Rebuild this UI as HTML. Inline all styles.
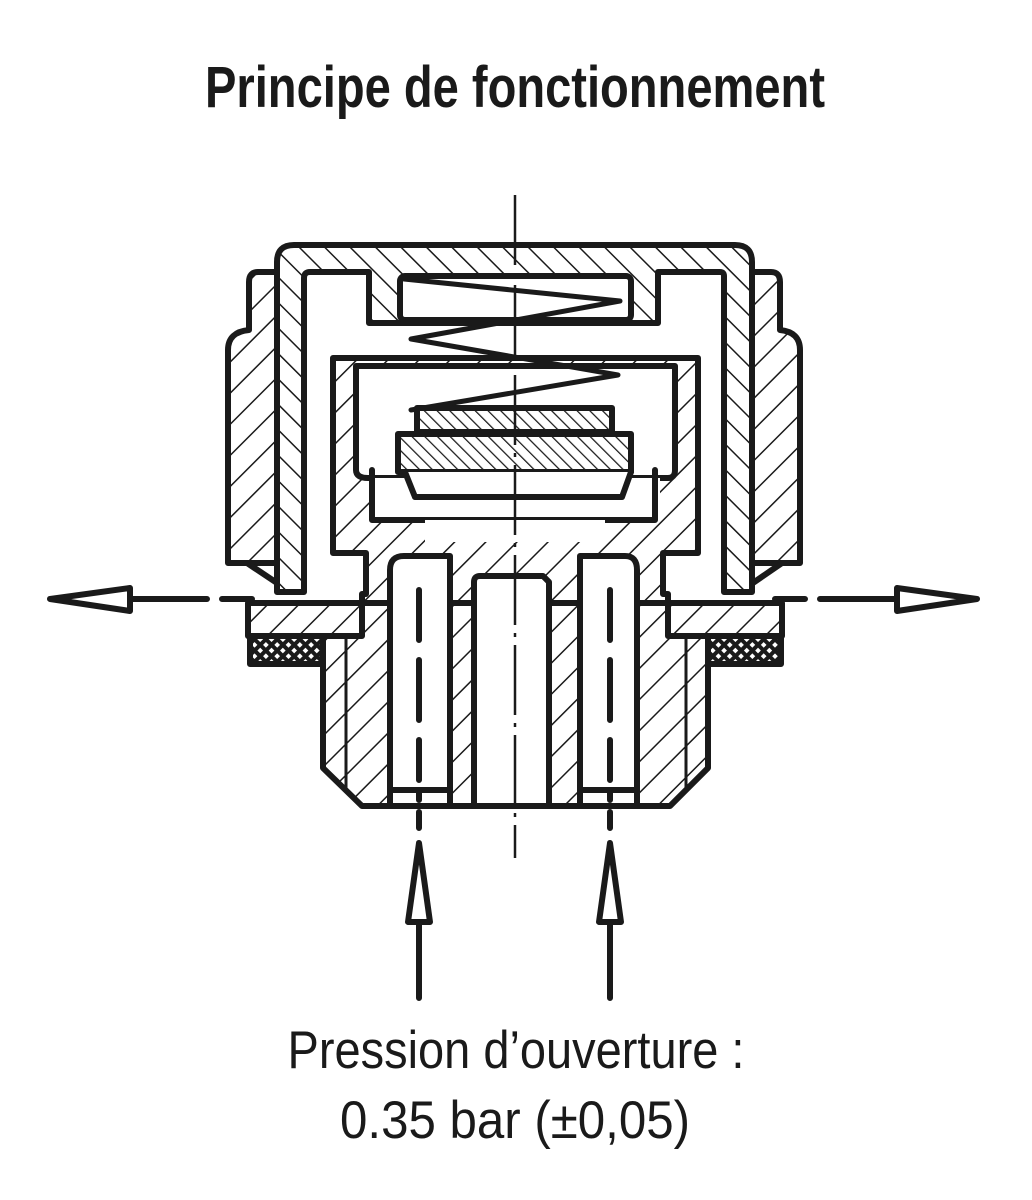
<!DOCTYPE html>
<html><head><meta charset="utf-8"><style>
html,body{margin:0;padding:0;background:#fff;}
svg{display:block;}
</style></head><body>
<svg width="1032" height="1200" viewBox="0 0 1032 1200" xmlns="http://www.w3.org/2000/svg">
<defs>
<pattern id="h" patternUnits="userSpaceOnUse" width="22" height="22" patternTransform="rotate(45)">
<rect width="22" height="22" fill="#fff"/><line x1="0" y1="0" x2="0" y2="22" stroke="#1a1a1a" stroke-width="3"/></pattern>
<pattern id="h2" patternUnits="userSpaceOnUse" width="18" height="18" patternTransform="rotate(-45)">
<rect width="18" height="18" fill="#fff"/><line x1="0" y1="0" x2="0" y2="18" stroke="#1a1a1a" stroke-width="3"/></pattern>
<pattern id="hf" patternUnits="userSpaceOnUse" width="9" height="9" patternTransform="rotate(-45)">
<rect width="9" height="9" fill="#fff"/><line x1="0" y1="0" x2="0" y2="9" stroke="#1a1a1a" stroke-width="2.5"/></pattern>
<pattern id="x" patternUnits="userSpaceOnUse" width="8" height="8" patternTransform="rotate(45)">
<rect width="8" height="8" fill="#1a1a1a"/><rect x="2" y="2" width="4" height="4" fill="#fff"/></pattern>
</defs>
<g font-family="'Liberation Sans', sans-serif" fill="#1a1a1a">
<text x="515" y="107" text-anchor="middle" font-size="58" font-weight="bold" textLength="620" lengthAdjust="spacingAndGlyphs">Principe de fonctionnement</text>
<text x="516" y="1068" text-anchor="middle" font-size="53" textLength="457" lengthAdjust="spacingAndGlyphs">Pression d’ouverture :</text>
<text x="515" y="1138" text-anchor="middle" font-size="53" textLength="350" lengthAdjust="spacingAndGlyphs">0.35 bar (±0,05)</text>
</g>
<g stroke="#1a1a1a" stroke-width="6" stroke-linejoin="round" stroke-linecap="round">
<!-- grip rings -->
<path d="M277 272 H258 Q249 272 249 282 V330 Q228 332 228 350 V563 H277 Z" fill="url(#h)"/>
<path d="M752 272 H771 Q780 272 780 282 V330 Q800 332 800 350 V563 H752 Z" fill="url(#h)"/>
<path d="M247 563 L280 585 H300 M782 563 L750 585 H730" fill="none"/>
<!-- cap -->
<path d="M277 592 V262 Q277 245 294 245 H735 Q752 245 752 262 V592 H724 V276 Q724 272 720 272 H658 V323 H369 V272 H310 Q304 272 304 278 V592 Z" fill="url(#h2)"/>
<rect x="400" y="276" width="231" height="44" rx="5" fill="#fff"/>
<!-- inner cup -->
<path d="M333 358 H698 V553 H663 V594 H668 V603 H362 V594 H366 V553 H333 Z" fill="url(#h)"/>
<path d="M356 366 H675 V470 Q675 478 668 478 H368 Q356 478 356 470 Z" fill="#fff"/>
<path d="M372 478 H660 V520 H372 Z" fill="#fff" stroke="none"/>
<path d="M372 470 V520 H655 V470" fill="none"/>
<rect x="425" y="520" width="180" height="22" fill="#fff" stroke="none"/>
<!-- discs -->
<rect x="417" y="408" width="195" height="24" fill="url(#hf)"/>
<rect x="398" y="434" width="233" height="38" fill="url(#hf)"/>
<path d="M405 472 L415 497 H622 L631 472" fill="#fff"/>
<!-- spring -->
<polyline points="404,279 620,301 411,339 618,375 411,410" fill="none" stroke-width="5"/>
<!-- flange -->
<path d="M248 603 H362 V636 H248 Z M668 603 H782 V636 H668 Z" fill="url(#h)"/>
<rect x="250" y="636" width="73" height="28" fill="url(#x)"/>
<rect x="708" y="636" width="73" height="28" fill="url(#x)"/>
<!-- body -->
<path d="M323 636 H362 V603 H668 V636 H708 V768 L670 806 H362 L323 768 Z" fill="url(#h)"/>
<path d="M390 806 V570 Q390 556 404 556 H450 V806 Z" fill="#fff"/>
<path d="M580 806 V556 H625 Q637 556 637 570 V806 Z" fill="#fff"/>
<path d="M474 806 V582 Q474 576 480 576 H543 L549 582 V806 Z" fill="#fff"/>
<path d="M390 790 H450 M580 790 H637" fill="none"/>
<path d="M346 636 V790 M686 636 V790" fill="none" stroke-width="3"/>
<path d="M419 590 V640 M419 660 V720 M419 740 V780 M610 590 V640 M610 660 V720 M610 740 V780" fill="none"/>
<path d="M419 790 V800 M419 812 V828 M610 790 V800 M610 812 V828" fill="none"/>
<!-- arrows -->
<path d="M50 599 L130 588 L130 611 Z M130 599 H207 M222 599 H252" fill="#fff"/>
<path d="M977 599 L897 588 L897 611 Z M897 599 H820 M805 599 H775" fill="#fff"/>
<path d="M419 843 L408 922 H430 Z M419 922 V998" fill="#fff"/>
<path d="M610 843 L599 922 H621 Z M610 922 V998" fill="#fff"/>
</g>
<path d="M515 195 V858" stroke="#1a1a1a" stroke-width="2.5" stroke-dasharray="70 8 4 8" fill="none"/>
</svg>
</body></html>
